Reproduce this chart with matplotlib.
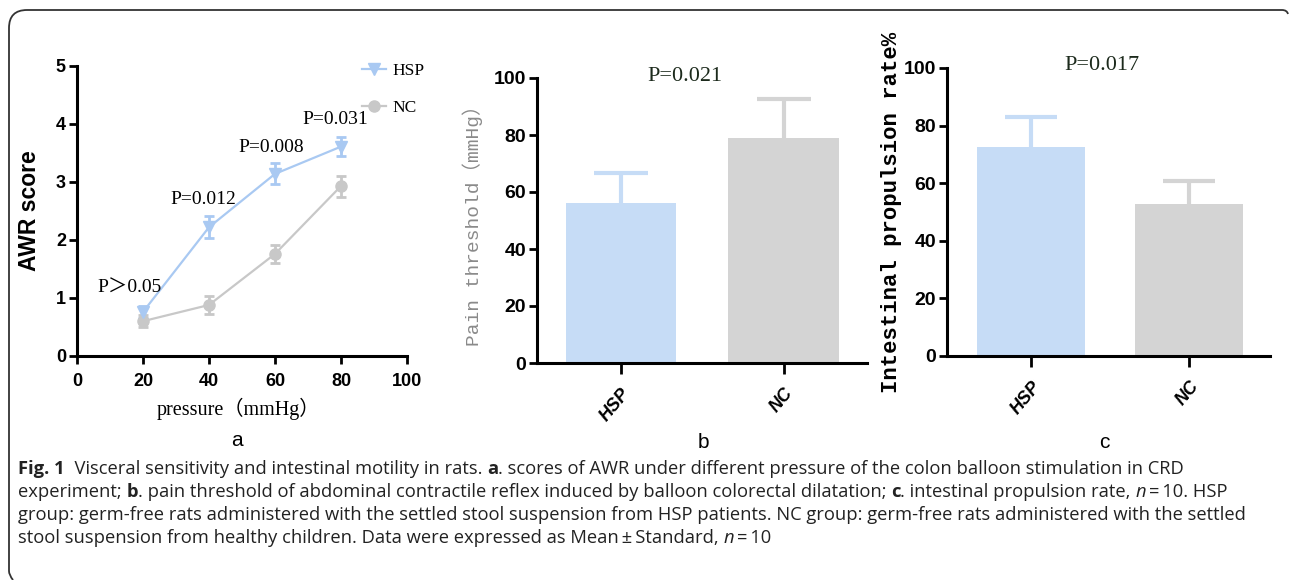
import numpy as np
import matplotlib
matplotlib.use("Agg")
import matplotlib.pyplot as plt
from matplotlib import font_manager
from matplotlib.path import Path
from matplotlib.patches import PathPatch
from matplotlib.lines import Line2D

# ---- data ----
pressure = [20, 40, 60, 80]
awr_hsp = [0.76, 2.22, 3.14, 3.61]
awr_hsp_sd = [0.11, 0.19, 0.18, 0.17]
awr_nc = [0.60, 0.88, 1.76, 2.93]
awr_nc_sd = [0.10, 0.15, 0.16, 0.18]
awr_p = ["P\uff1e0.05", "P=0.012", "P=0.008", "P=0.031"]

groups = ["HSP", "NC"]
pain_mean = [56.3, 79.1]
pain_sd = [10.3, 13.6]
pain_p = "P=0.021"

prop_mean = [72.5, 52.7]
prop_sd = [10.4, 7.9]
prop_p = "P=0.017"

caption = [
    [("Fig. 1", "b"), ("  Visceral sensitivity and intestinal motility in rats. ", "n"), ("a", "b"),
     (". scores of AWR under different pressure of the colon balloon stimulation in CRD", "n")],
    [("experiment; ", "n"), ("b", "b"),
     (". pain threshold of abdominal contractile reflex induced by balloon colorectal dilatation; ", "n"),
     ("c", "b"), (". intestinal propulsion rate, ", "n"), ("n", "i"), ("\u2009=\u200910. HSP", "n")],
    [("group: germ-free rats administered with the settled stool suspension from HSP patients. "
      "NC group: germ-free rats administered with the settled", "n")],
    [("stool suspension from healthy children. Data were expressed as Mean\u2009\u00b1\u2009Standard, ", "n"),
     ("n", "i"), ("\u2009=\u200910", "n")],
]

BLUE_LINE = "#a9c9f2"
BLUE_BAR = "#c6dcf6"
GRAY_LINE = "#c8c8c8"
GRAY_BAR = "#d4d4d4"


def pick(*names):
    have = {f.name for f in font_manager.fontManager.ttflist}
    for nm in names:
        if nm in have:
            return nm
    return "DejaVu Sans"


NARROW = pick("Liberation Sans Narrow", "Liberation Sans")
SANS = pick("Liberation Sans", "DejaVu Sans")
SERIF = pick("Liberation Serif", "DejaVu Serif")
MONO = pick("Liberation Mono", "DejaVu Sans Mono")
CAP = pick("Open Sans", "Liberation Sans")
CJK = "Noto Sans CJK SC"

W, H = 1290, 580
fig = plt.figure(figsize=(W / 100, H / 100), dpi=100)


def frac(l, t, r, b):
    return [l / W, 1 - b / H, (r - l) / W, (b - t) / H]


def style_axes(ax, tsize):
    for s in ("top", "right"):
        ax.spines[s].set_visible(False)
    for s in ("left", "bottom"):
        ax.spines[s].set_linewidth(2.2)
    ax.tick_params(direction="out", length=6, width=2, pad=2)
    for lab in ax.get_yticklabels():
        lab.set_fontfamily(NARROW); lab.set_fontweight("bold"); lab.set_fontsize(tsize)


# ---- panel a ----
ax = fig.add_axes(frac(77, 66, 407, 356))
ax.errorbar(pressure, awr_nc, yerr=awr_nc_sd, color=GRAY_LINE, lw=1.6, marker="o", ms=8,
            capsize=3.5, elinewidth=2, capthick=2)
ax.errorbar(pressure, awr_hsp, yerr=awr_hsp_sd, color=BLUE_LINE, lw=1.6, marker="v", ms=8,
            capsize=3.5, elinewidth=2, capthick=2)
ax.set_xlim(0, 100); ax.set_ylim(0, 5)
ax.set_xticks(range(0, 101, 20)); ax.set_yticks(range(0, 6))
ax.spines["bottom"].set_bounds(0, 100)
style_axes(ax, 13)
ax.tick_params(axis="x", pad=6)
for lab in ax.get_xticklabels():
    lab.set_fontfamily(NARROW); lab.set_fontweight("bold"); lab.set_fontsize(13)
ax.set_ylabel("AWR score", fontfamily=SANS, fontweight="bold", fontsize=16.5)
ax.yaxis.set_label_coords(-0.11, 0.5)
ax.set_xlabel("pressure\uff08mmHg\uff09", family=[SERIF, CJK], fontsize=14.5)
ax.xaxis.set_label_coords(0.49, -0.145)
for x, y, s in zip([16, 38.2, 58.8, 78.2], [1.17, 2.69, 3.6, 4.07], awr_p):
    ax.text(x, y, s, ha="center", va="center", family=[SERIF, CJK], fontsize=14)
h_hsp = Line2D([], [], color=BLUE_LINE, lw=1.6, marker="v", ms=8)
h_nc = Line2D([], [], color=GRAY_LINE, lw=1.6, marker="o", ms=8)
ax.legend([h_hsp, h_nc], groups, loc="upper left", bbox_to_anchor=(346 / W, 1 - 47 / H),
          bbox_transform=fig.transFigure, frameon=False, handlelength=1.4, handletextpad=0.4,
          labelspacing=1.2, prop={"family": SERIF, "size": 12.5})

# ---- panels b and c ----
def bar_panel(box, mean, sd, p, px, py, ylabel, lab_kw, lab_x, xlim):
    ax = fig.add_axes(frac(*box))
    cols = [BLUE_BAR, GRAY_BAR]
    x = np.arange(len(groups))
    ax.bar(x, mean, width=0.68, color=cols, zorder=2)
    top = np.add(mean, sd)
    ax.vlines(x, mean, top, colors=cols, lw=3, zorder=1)
    ax.hlines(top, x - 0.165, x + 0.165, colors=cols, lw=3, zorder=1)
    ax.set_xlim(*xlim); ax.set_ylim(0, 100)
    ax.set_yticks(range(0, 101, 20))
    ax.set_xticks(x)
    ax.set_xticklabels(groups, rotation=50, ha="right", rotation_mode="anchor",
                       fontfamily=NARROW, fontweight="bold", fontstyle="italic", fontsize=13)
    style_axes(ax, 14)
    ax.tick_params(axis="x", length=8, pad=8)
    ax.text(px, py, p, ha="center", va="center", fontfamily=SERIF, fontsize=16, color="#1c2a1c")
    ax.set_ylabel(ylabel, **lab_kw)
    ax.yaxis.set_label_coords(lab_x, 0.5)
    return ax


bar_panel((537, 78, 867, 363), pain_mean, pain_sd, pain_p, 0.39, 100.5,
          "Pain threshold\uff08mmHg\uff09", dict(family=[MONO, CJK], fontsize=14, color="#8a8a8a"),
          -0.165, (-0.515, 1.51))
bar_panel((947, 68, 1270, 356), prop_mean, prop_sd, prop_p, 0.45, 101,
          "Intestinal propulsion rate%", dict(family=MONO, fontsize=16, fontweight="bold"),
          -0.14, (-0.532, 1.513))

# panel letters
for x, y, s in [(237, 441, "a"), (703, 443, "b"), (1104, 443, "c")]:
    fig.text(x / W, 1 - y / H, s, ha="center", va="center", fontfamily=SANS, fontsize=15)

# ---- caption ----
fig.canvas.draw()
rend = fig.canvas.get_renderer()


def seg_width(txt, kw):
    a = fig.text(0, 0, txt + "x", **kw); b = fig.text(0, 0, "x", **kw)
    w = a.get_window_extent(rend).width - b.get_window_extent(rend).width
    a.remove(); b.remove()
    return w


for k, line in enumerate(caption):
    xp = 18
    yp = 469 + k * 23
    for txt, st in line:
        kw = dict(family=[CAP, "DejaVu Sans"], fontsize=13.2, va="center", ha="left", color="#222222")
        if st == "b":
            kw["fontweight"] = "bold"
        if st == "i":
            kw["fontstyle"] = "italic"
        fig.text(xp / W, 1 - yp / H, txt, **kw)
        xp += seg_width(txt, kw)

# ---- frame ----
verts = [(13, 580), (9, 575), (9, 571), (9, 28), (9, 10), (27, 10), (1282, 10), (1287, 10), (1288, 14)]
codes = [Path.MOVETO, Path.CURVE3, Path.CURVE3, Path.LINETO, Path.CURVE3, Path.CURVE3,
         Path.LINETO, Path.CURVE3, Path.CURVE3]
pth = Path([(x / W, 1 - y / H) for x, y in verts], codes)
fig.add_artist(PathPatch(pth, fill=False, lw=1.3, edgecolor="#333333", transform=fig.transFigure))

fig.savefig("out.png", dpi=100)
